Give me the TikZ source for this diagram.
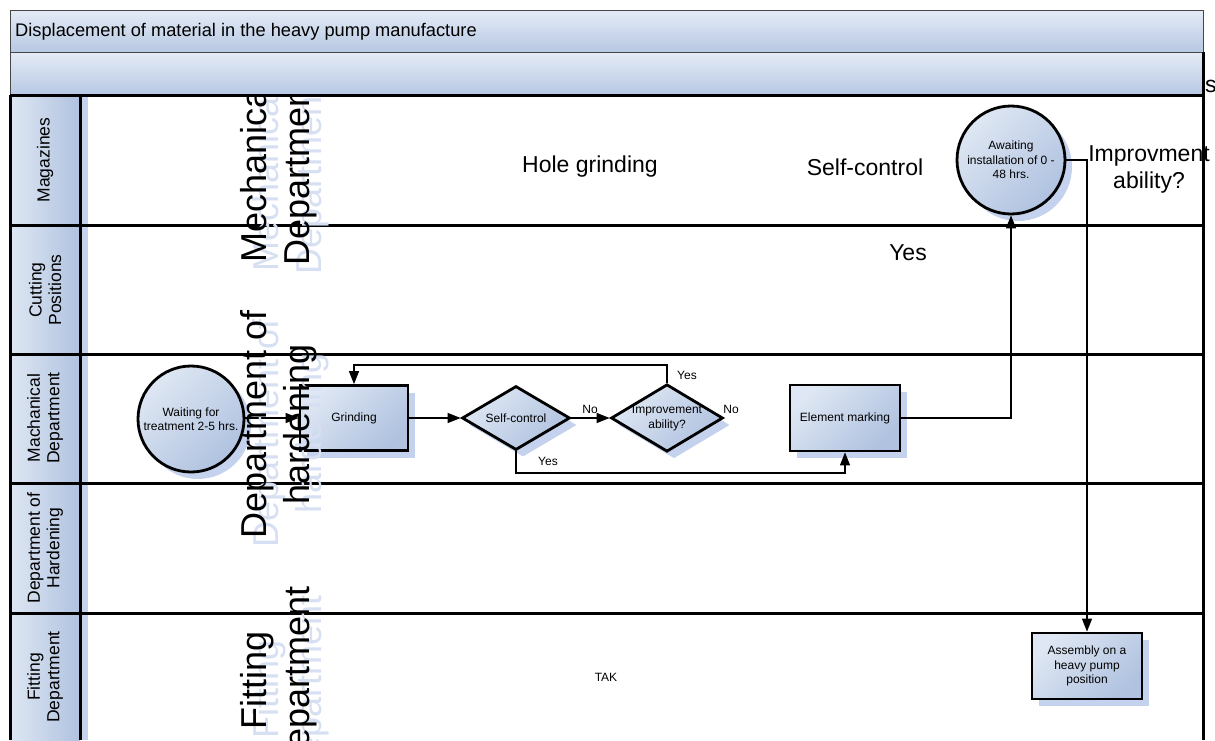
\documentclass[tikz,border=0pt]{standalone}
\usepackage{fontspec}
\setmainfont{Liberation Sans}
\usetikzlibrary{shapes.geometric,arrows.meta,shadows}
\definecolor{nlight}{RGB}{222,231,243}
\definecolor{ndark}{RGB}{176,194,224}
\definecolor{blight}{RGB}{228,235,246}
\definecolor{bdark}{RGB}{183,200,227}
\definecolor{shblue}{RGB}{196,210,237}
\definecolor{txtsh}{RGB}{214,224,242}
\definecolor{hdrgray}{RGB}{70,70,70}
\newcommand\fsmall{\fontsize{12}{14.5}\selectfont}
\newcommand\fbigtxt{\fontsize{23}{27}\selectfont}
\newcommand\fhugetxt{\fontsize{36}{43}\selectfont}
\newcommand\flanetxt{\fontsize{17.5}{19.5}\selectfont}
\newcommand\fheadtxt{\fontsize{18.25}{21}\selectfont}
\begin{document}
\begin{tikzpicture}[x=1pt,y=-1pt,
  lanerule/.style={line width=3pt,black},
  nshade/.style={top color=nlight,bottom color=ndark,shading angle=45},
  shd/.style={general shadow={fill=shblue,shadow xshift=7pt,shadow yshift=-7pt}},
  procbox/.style={rectangle,draw,line width=2.8pt,nshade,shd,minimum width=108pt,minimum height=65pt,inner sep=2pt,align=center,font=\fsmall},
  waitcirc/.style={circle,draw,line width=2.8pt,nshade,shd,minimum size=106pt,inner sep=0pt,align=center,font=\fsmall},
  decis/.style={diamond,draw,line width=2.8pt,nshade,shd,minimum width=108pt,minimum height=64pt,inner sep=0pt,aspect=1.66,align=center,font=\fsmall},
  conn/.style={line width=1.2pt,-{Triangle[length=13pt,width=10pt]}},
  lbl/.style={font=\fsmall,inner sep=1pt},
  lanelbl/.style={rotate=90,align=center,font=\flanetxt},
  bigtxt/.style={font=\fbigtxt,align=center,inner sep=0pt},
  bigrot/.style={rotate=90,align=center,font=\fhugetxt,inner sep=0pt},
  bigrotsh/.style={bigrot,text=txtsh}
]
\useasboundingbox (0,0) rectangle (1215,740);
\fill[white] (0,0) rectangle (1215,740);

% header bars
\path[draw=hdrgray,line width=1pt,top color=blight,bottom color=bdark] (10,10) rectangle (1203,52);
\path[draw=hdrgray,line width=1pt,top color=blight,bottom color=bdark] (10,52) rectangle (1203,95);
\node[anchor=base west,font=\fheadtxt,inner sep=0pt] (title) at (15,36) {Displacement of material in the heavy pump manufacture};
\node[anchor=base west,font=\fbigtxt,inner sep=0pt] (sfrag) at (1205,92) {s};

% label column
\fill[left color=nlight,right color=ndark] (10,95) rectangle (80,740);
\fill[shblue] (82,95) rectangle (88,740);

% lane rules
\foreach \yy in {95,225,354,483,613} \draw[lanerule] (10,\yy) -- (1203,\yy);
\draw[lanerule] (10,95) -- (10,740);
\draw[lanerule] (80,95) -- (80,740);
\draw[lanerule] (1203,52) -- (1203,740);

% lane labels
\node[lanelbl] (lmag) at (45,160) {Magazines};
\node[lanelbl] (lcut) at (45,290) {Cutting\\Positions};
\node[lanelbl] (lmech) at (45,418) {Machanical\\Department};
\node[lanelbl] (lhard) at (45,548) {Department of\\Hardening};
\node[lanelbl] (lfit) at (45,677) {Fitting\\Department};

% free texts
\node[bigtxt] (holegr) at (590,167) {Hole grinding};
\node[bigtxt] (selfbig) at (865,167) {Self-control};
\node[bigtxt] (yesbig) at (908,253) {Yes};
\node[bigtxt] (improvbig) at (1149,169) {Improvment\\ability?};
\node[font=\fsmall] (tak) at (606,677) {TAK};

% process nodes
\node[waitcirc] (wait) at (191,419) {Waiting for\\treatment 2-5 hrs.};
\node[procbox] (grind) at (354,418) {Grinding};
\node[decis] (sc) at (516,418) {Self-control};
\node[decis,minimum width=110pt] (imp) at (667,418) {Improvement\\ability?};
\node[procbox,minimum width=110pt,minimum height=66pt] (mark) at (845,418) {Element marking};
\node[waitcirc,minimum size=108pt] (await) at (1011,160) {Awaiting\\installation of 0 -\\48 hrs.};
\node[procbox,minimum width=110pt,minimum height=66pt] (assy) at (1087,666) {Assembly on a\\heavy pump\\position};

% connectors
\draw[conn] (wait.east |- grind.west) -- (grind.west);
\draw[conn] (grind.east) -- (sc.west);
\draw[conn] (sc.east) -- (imp.west);
\draw[conn] (imp.north) -- (imp.north |- 0,365) -| (grind.north);
\draw[conn] (sc.south) -- (sc.south |- 0,473) -| (mark.south);
\draw[conn] (mark.east) -| (await.south);
\draw[conn] (await.east) -| (assy.north);

% connector labels
\node[lbl] (no1) at (590,409) {No};
\node[lbl] (yes1) at (687,375) {Yes};
\node[lbl] (no2) at (731,409) {No};
\node[lbl] (yes2) at (548,461) {Yes};

% big rotated texts
\begin{scope}
\clip (10,96) rectangle (1215,740);
\node[bigrotsh] (mechsh) at (291,180) {Mechanical\\Department};
\node[bigrotsh] (hardsh) at (291,433) {Department of\\hardening};
\node[bigrotsh] (fitsh) at (291,689) {Fitting\\Department};
\node[bigrot] (mechbig) at (279,171) {Mechanical\\Department};
\node[bigrot] (hardbig) at (279,424) {Department of\\hardening};
\node[bigrot] (fitbig) at (279,680) {Fitting\\Department};
\end{scope}
\end{tikzpicture}
\end{document}
